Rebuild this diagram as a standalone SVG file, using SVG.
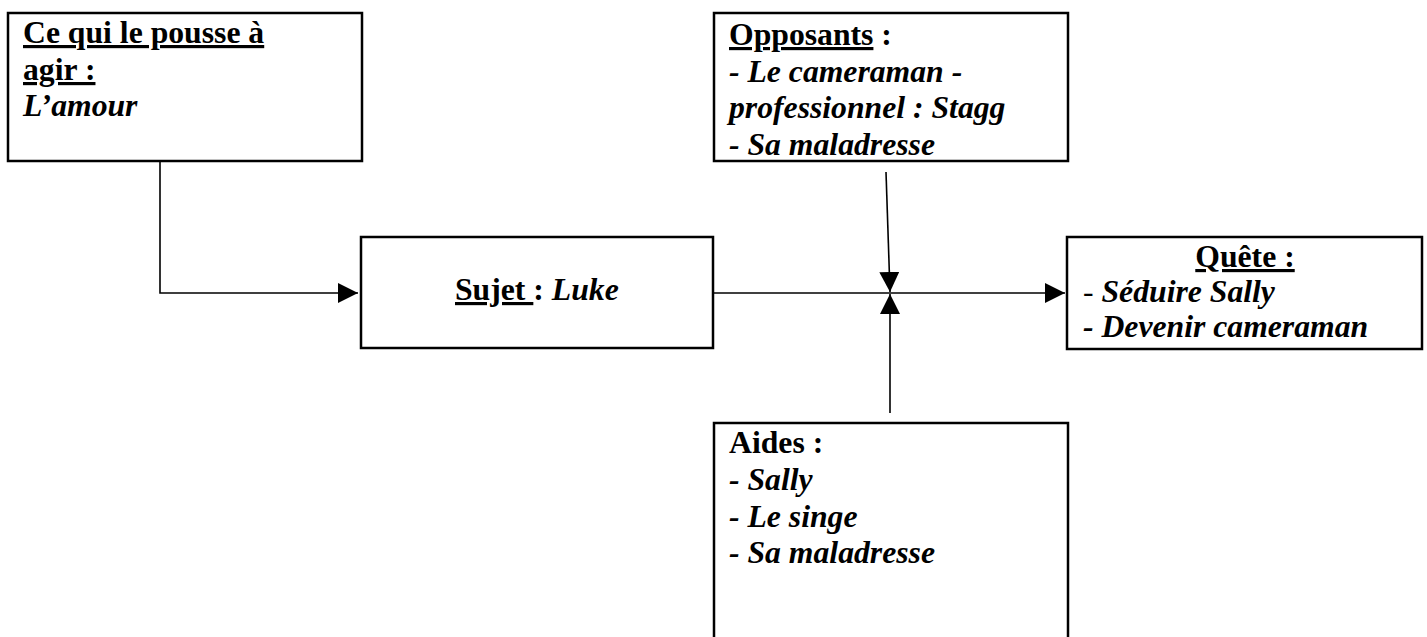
<svg xmlns="http://www.w3.org/2000/svg" width="1427" height="637" viewBox="0 0 1427 637">
<style>
.box{fill:#fff;stroke:#000;stroke-width:2.5}
.t{font-family:"Liberation Serif","Times New Roman",serif;font-size:31.7px;font-weight:bold;fill:#000}
.i{font-style:italic}
.n{font-weight:normal}
.u{text-decoration:underline}
.c{fill:none;stroke:#000;stroke-width:1.6}
</style>
<defs>
<marker id="arr" markerUnits="userSpaceOnUse" markerWidth="21" markerHeight="21" refX="20" refY="10" orient="auto" viewBox="0 0 21 21">
<path d="M0,0 L20,10 L0,20 z" fill="#000"/>
</marker>
</defs>
<rect width="1427" height="637" fill="#fff"/>
<g id="connectors">
<path class="c" d="M160,161 V293 H358" marker-end="url(#arr)"/>
<path class="c" d="M713,293 H1065" marker-end="url(#arr)"/>
<path class="c" d="M886,172 L890,292" marker-end="url(#arr)"/>
<path class="c" d="M890,413 V294" marker-end="url(#arr)"/>
</g>
<g id="motivation">
<rect class="box" x="8" y="13" width="354" height="148"/>
<text class="t" x="23" y="43"><tspan class="u">Ce qui le pousse à</tspan></text>
<text class="t" x="23" y="80"><tspan class="u">agir :</tspan></text>
<text class="t i" x="23" y="116">L’amour</text>
</g>
<g id="opposants">
<rect class="box" x="714" y="13" width="354" height="148"/>
<text class="t" x="729" y="45"><tspan class="u">Opposants</tspan> :</text>
<text class="t i" x="729" y="82">- Le cameraman -</text>
<text class="t i" x="729" y="118">professionnel : Stagg</text>
<text class="t i" x="729" y="155">- Sa maladresse</text>
</g>
<g id="sujet">
<rect class="box" x="361" y="237" width="352" height="111"/>
<text class="t" x="455" y="300"><tspan class="u">Sujet </tspan>: <tspan class="i">Luke</tspan></text>
</g>
<g id="quete">
<rect class="box" x="1067" y="237" width="355" height="112"/>
<text class="t" x="1245" y="267" text-anchor="middle"><tspan class="u">Quête :</tspan></text>
<text class="t" x="1083" y="302"><tspan class="n">- </tspan><tspan class="i">Séduire Sally</tspan></text>
<text class="t i" x="1083" y="337">- Devenir cameraman</text>
</g>
<g id="aides">
<rect class="box" x="714" y="423" width="354" height="260"/>
<text class="t" x="729" y="453">Aides :</text>
<text class="t i" x="729" y="490">- Sally</text>
<text class="t i" x="729" y="527">- Le singe</text>
<text class="t i" x="729" y="563">- Sa maladresse</text>
</g>
</svg>
